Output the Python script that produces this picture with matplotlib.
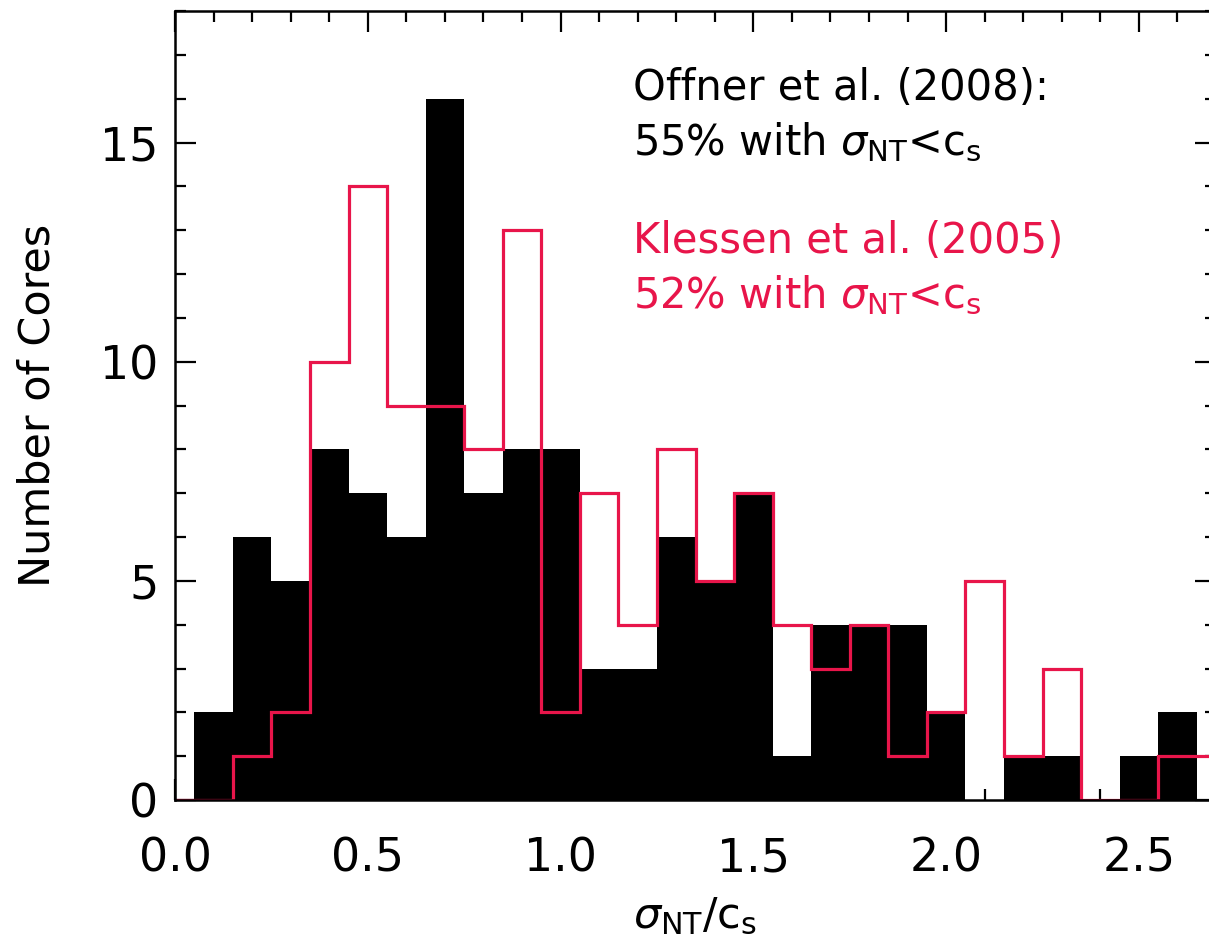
import numpy as np
import matplotlib
matplotlib.use("Agg")
import matplotlib.pyplot as plt
from matplotlib.ticker import MultipleLocator

# =====================================================
# Histogram data (bins of 0.1 in sigma_NT/c_s)
# =====================================================

bin_start = 0.05
bin_width = 0.1

# Offner et al. (2008) - filled black
offner_counts = [2, 6, 5, 8, 7, 6, 16, 7, 8, 8, 3, 3, 6,
                 5, 7, 1, 4, 4, 4, 2, 0, 1, 1, 0, 1, 2]

# Klessen et al. (2005) - red outline
klessen_counts = [0, 1, 2, 10, 14, 9, 9, 8, 13, 2, 7, 4, 8,
                  5, 7, 4, 3, 4, 1, 2, 5, 1, 3, 0, 0, 1]

xlabel = r"$\sigma_{\mathrm{NT}}/\mathrm{c}_{\mathrm{s}}$"
ylabel = "Number of Cores"
offner_lines = ["Offner et al. (2008):",
                r"55% with $\sigma_{\mathrm{NT}}$<c$_{\mathrm{s}}$"]
klessen_lines = ["Klessen et al. (2005)",
                 r"52% with $\sigma_{\mathrm{NT}}$<c$_{\mathrm{s}}$"]

red = "#E8154A"
xmin, xmax = 0.0, 2.7
ymin, ymax = 0, 18

# =====================================================
# Figure
# =====================================================

plt.rcParams["font.family"] = "DejaVu Sans"
plt.rcParams["mathtext.fontset"] = "dejavusans"

fig = plt.figure(figsize=(12.09, 9.5), dpi=100)
ax = fig.add_axes([175/1209, 150/950, (1216-175)/1209, (939-150)/950])

n = len(offner_counts)
edges = np.round(bin_start + bin_width*np.arange(n+1), 3)

ax.stairs(
    offner_counts,
    edges,
    fill=True,
    color="black",
    zorder=2
)

red_edges = edges.copy()
red_edges[0] = xmin
red_edges[-1] = xmax

ax.stairs(
    klessen_counts,
    red_edges,
    color=red,
    linewidth=2.3,
    zorder=3
)

ax.set_xlim(xmin, xmax)
ax.set_ylim(ymin, ymax)

ax.xaxis.set_major_locator(MultipleLocator(0.5))
ax.xaxis.set_minor_locator(MultipleLocator(0.1))
ax.yaxis.set_major_locator(MultipleLocator(5))
ax.yaxis.set_minor_locator(MultipleLocator(1))
ax.xaxis.set_major_formatter(matplotlib.ticker.FormatStrFormatter("%.1f"))

ax.tick_params(
    which="both",
    direction="in",
    top=True,
    right=True,
    width=1.6,
    labelsize=33,
    zorder=4
)
ax.tick_params(which="major", length=15)
ax.tick_params(which="minor", length=8)
ax.tick_params(axis="x", which="major", pad=26)
ax.tick_params(axis="y", which="major", pad=12)

for s in ax.spines.values():
    s.set_linewidth(1.8)
    s.set_zorder(5)

ax.set_xlabel(xlabel, fontsize=31, labelpad=10)
ax.set_ylabel(ylabel, fontsize=31, labelpad=30)

# annotation lines, baselines in pixels from top
text_x = 633
baselines = [100, 155, 253, 308]
for i, line in enumerate(offner_lines + klessen_lines):
    ax.text(
        text_x, 950-baselines[i],
        line,
        transform=None,
        fontsize=30,
        color="black" if i < 2 else red,
        va="baseline"
    )

fig.savefig("out.png", dpi=100)
plt.close(fig)
